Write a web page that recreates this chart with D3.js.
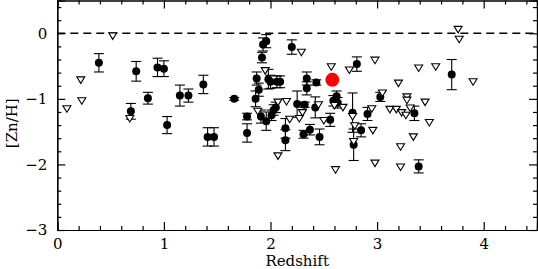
<!DOCTYPE html>
<html>
<head>
<meta charset="utf-8">
<script src="https://cdn.jsdelivr.net/npm/d3@7"></script>
<style>
  body { margin: 0; background: #fff; }
  svg { display: block; }
  .axis text { font-family: "DejaVu Serif", serif; font-size: 15px; fill: #000; }
  .axis path, .axis line { stroke: #000; stroke-width: 1.2; }
  .axisText { font-family: "DejaVu Serif", serif; font-size: 15px; fill: #000; }
</style>
</head>
<body>
<div id="chart"></div>
<script>
var svgWidth = 538;
var svgHeight = 269;

var margin = { top: 0.5, right: 1, bottom: 39, left: 57.3 };
var width = svgWidth - margin.left - margin.right;
var height = svgHeight - margin.top - margin.bottom;

// x ticks / y ticks
var xMajor = [0, 1, 2, 3, 4];
var yMajor = [-3, -2, -1, 0];

// detections: redshift, [Zn/H], error
var detZ   = [0.39, 0.69, 0.74, 0.85, 0.94, 1.00, 1.03, 1.15, 1.23, 1.37, 1.41, 1.47, 1.66, 1.78, 1.78,
              1.87, 1.86, 1.89, 1.92, 1.93, 1.96, 1.98, 2.00, 2.06, 2.09, 2.20, 1.91, 1.96, 2.01, 2.03,
              2.05, 2.14, 2.14, 2.25, 2.32, 2.34, 2.34, 2.43, 2.42, 2.37, 2.31, 2.46, 2.56, 2.59, 2.62,
              2.63, 2.77, 2.78, 2.81, 2.85, 2.91, 3.03, 3.35, 3.39, 3.70];
var detZn  = [-0.45, -1.19, -0.58, -0.99, -0.52, -0.54, -1.40, -0.95, -0.95, -0.78, -1.58, -1.58, -1.00, -1.27, -1.52,
              -0.69, -1.00, -0.86, -0.37, -0.17, -0.12, -0.70, -0.74, -0.74, -0.74, -0.21, -1.27, -1.34, -1.25, -1.17,
              -1.13, -1.45, -1.63, -1.08, -1.09, -0.69, -0.84, -0.75, -1.13, -1.47, -1.54, -1.58, -1.32, -1.03, -0.96,
              -1.06, -1.21, -1.70, -0.47, -1.48, -1.23, -0.97, -1.22, -2.03, -0.63];
var detErr = [0.14, 0.12, 0.15, 0.09, 0.14, 0.12, 0.13, 0.16, 0.10, 0.14, 0.14, 0.14, 0.02, 0.05, 0.14,
              0.10, 0.12, 0.10, 0.08, 0.10, 0.10, 0.15, 0.10, 0.09, 0.09, 0.11, 0.10, 0.14, 0.08, 0.08,
              0.08, 0.15, 0.16, 0.20, 0.04, 0.10, 0.10, 0.04, 0.16, 0.08, 0.06, 0.12, 0.10, 0.08, 0.08,
              0.08, 0.30, 0.24, 0.11, 0.10, 0.10, 0.07, 0.11, 0.10, 0.23];

// upper limits
var limZ  = [0.09, 0.22, 0.23, 0.52, 0.68, 1.88, 1.95, 2.07, 2.15, 2.18, 2.07, 2.27, 2.30, 2.29, 2.45,
             2.50, 2.57, 2.60, 2.68, 2.74, 2.61, 2.77, 2.79, 2.78, 2.95, 2.96, 2.98, 2.98, 3.05, 3.12,
             3.18, 3.20, 3.23, 3.27, 3.28, 3.28, 3.31, 3.22, 3.22, 3.34, 3.39, 3.45, 3.49, 3.55, 3.76,
             3.77, 3.90];
var limZn = [-1.15, -0.71, -1.03, -0.04, -1.30, -1.19, -0.57, -1.05, -1.04, -1.31, -1.87, -1.30, -1.21, -0.29, -1.09,
             -1.33, -0.51, -1.10, -1.13, -0.56, -2.08, -1.27, -1.41, -1.65, -1.15, -1.48, -0.41, -1.98, -0.91, -1.16,
             -1.16, -0.76, -1.21, -1.25, -0.97, -1.02, -1.14, -1.73, -2.04, -1.58, -0.53, -1.05, -1.36, -0.51, 0.06,
             -0.09, -0.74];

// highlighted object
var redZ = [2.58];
var redZn = [-0.71];

var detections = detZ.map(function(z, i) { return { z: z, zn: detZn[i], err: detErr[i] }; });
var limits = limZ.map(function(z, i) { return { z: z, zn: limZn[i] }; });
var red = redZ.map(function(z, i) { return { z: z, zn: redZn[i] }; });

var svg = d3.select("#chart")
  .append("svg")
  .attr("width", svgWidth)
  .attr("height", svgHeight);

var chartGroup = svg.append("g")
  .attr("transform", `translate(${margin.left}, ${margin.top})`);

var xLinearScale = d3.scaleLinear().domain([0, 4.5]).range([0, width]);
var yLinearScale = d3.scaleLinear().domain([-3, 0.5]).range([height, 0]);

var xMinor = d3.range(0, 4.51, 0.2).filter(function(v) { return Math.abs(v - Math.round(v)) > 1e-6; });
var yMinor = d3.range(-3, 0.51, 0.2).filter(function(v) { return Math.abs(v - Math.round(v)) > 1e-6; });

var fmt = function(d) { return d < 0 ? "\u2212" + Math.abs(d) : String(d); };

// dashed zero line
chartGroup.append("line")
  .attr("x1", 0).attr("x2", width)
  .attr("y1", yLinearScale(0)).attr("y2", yLinearScale(0))
  .attr("stroke", "#000")
  .attr("stroke-width", 1.6)
  .attr("stroke-dasharray", "8,5");

// error bars
var eb = chartGroup.append("g").attr("stroke", "#000").attr("stroke-width", 1.1);
detections.forEach(function(d) {
  var cx = xLinearScale(d.z);
  var y1 = yLinearScale(d.zn + d.err), y2 = yLinearScale(d.zn - d.err);
  eb.append("line").attr("x1", cx).attr("x2", cx).attr("y1", y1).attr("y2", y2);
  eb.append("line").attr("x1", cx - 5).attr("x2", cx + 5).attr("y1", y1).attr("y2", y1);
  eb.append("line").attr("x1", cx - 5).attr("x2", cx + 5).attr("y1", y2).attr("y2", y2);
});

chartGroup.selectAll(".det")
  .data(detections)
  .enter()
  .append("circle")
  .attr("class", "det")
  .attr("cx", function(d) { return xLinearScale(d.z); })
  .attr("cy", function(d) { return yLinearScale(d.zn); })
  .attr("r", 4)
  .attr("fill", "#000");

// upper limits: open down triangles
chartGroup.selectAll(".lim")
  .data(limits)
  .enter()
  .append("path")
  .attr("class", "lim")
  .attr("d", function(d) {
    var cx = xLinearScale(d.z), cy = yLinearScale(d.zn);
    return `M${cx - 4},${cy - 3}L${cx + 4},${cy - 3}L${cx},${cy + 3.5}Z`;
  })
  .attr("fill", "#fff")
  .attr("stroke", "#000")
  .attr("stroke-width", 1.1);

chartGroup.selectAll(".red")
  .data(red)
  .enter()
  .append("circle")
  .attr("cx", function(d) { return xLinearScale(d.z); })
  .attr("cy", function(d) { return yLinearScale(d.zn); })
  .attr("r", 7)
  .attr("fill", "#ff0000");

// axes
var bottomAxis = d3.axisBottom(xLinearScale).tickValues(xMajor).tickFormat(fmt).tickSize(-8).tickPadding(8);
var bottomMinor = d3.axisBottom(xLinearScale).tickValues(xMinor).tickFormat("").tickSize(-4);
var topAxis = d3.axisTop(xLinearScale).tickValues(xMajor).tickFormat("").tickSize(-8);
var topMinor = d3.axisTop(xLinearScale).tickValues(xMinor).tickFormat("").tickSize(-4);
var leftAxis = d3.axisLeft(yLinearScale).tickValues(yMajor).tickFormat(fmt).tickSize(-8).tickPadding(10);
var leftMinor = d3.axisLeft(yLinearScale).tickValues(yMinor).tickFormat("").tickSize(-4);
var rightAxis = d3.axisRight(yLinearScale).tickValues(yMajor).tickFormat("").tickSize(-8);
var rightMinor = d3.axisRight(yLinearScale).tickValues(yMinor).tickFormat("").tickSize(-4);

chartGroup.append("g").attr("class", "axis").attr("transform", `translate(0, ${height})`).call(bottomAxis);
chartGroup.append("g").attr("class", "axis").attr("transform", `translate(0, ${height})`).call(bottomMinor);
chartGroup.append("g").attr("class", "axis").call(topAxis);
chartGroup.append("g").attr("class", "axis").call(topMinor);
chartGroup.append("g").attr("class", "axis").call(leftAxis);
chartGroup.append("g").attr("class", "axis").call(leftMinor);
chartGroup.append("g").attr("class", "axis").attr("transform", `translate(${width}, 0)`).call(rightAxis);
chartGroup.append("g").attr("class", "axis").attr("transform", `translate(${width}, 0)`).call(rightMinor);
chartGroup.selectAll(".axis .domain").attr("stroke-width", 1.3);

// axis labels
chartGroup.append("text")
  .attr("class", "axisText")
  .attr("transform", `translate(${width / 2}, ${height + 36})`)
  .attr("text-anchor", "middle")
  .text("Redshift");

chartGroup.append("text")
  .attr("class", "axisText")
  .attr("transform", `translate(${-margin.left + 17}, ${height / 2 + 8}) rotate(-90)`)
  .attr("text-anchor", "middle")
  .text("[Zn/H]");
</script>
</body>
</html>
